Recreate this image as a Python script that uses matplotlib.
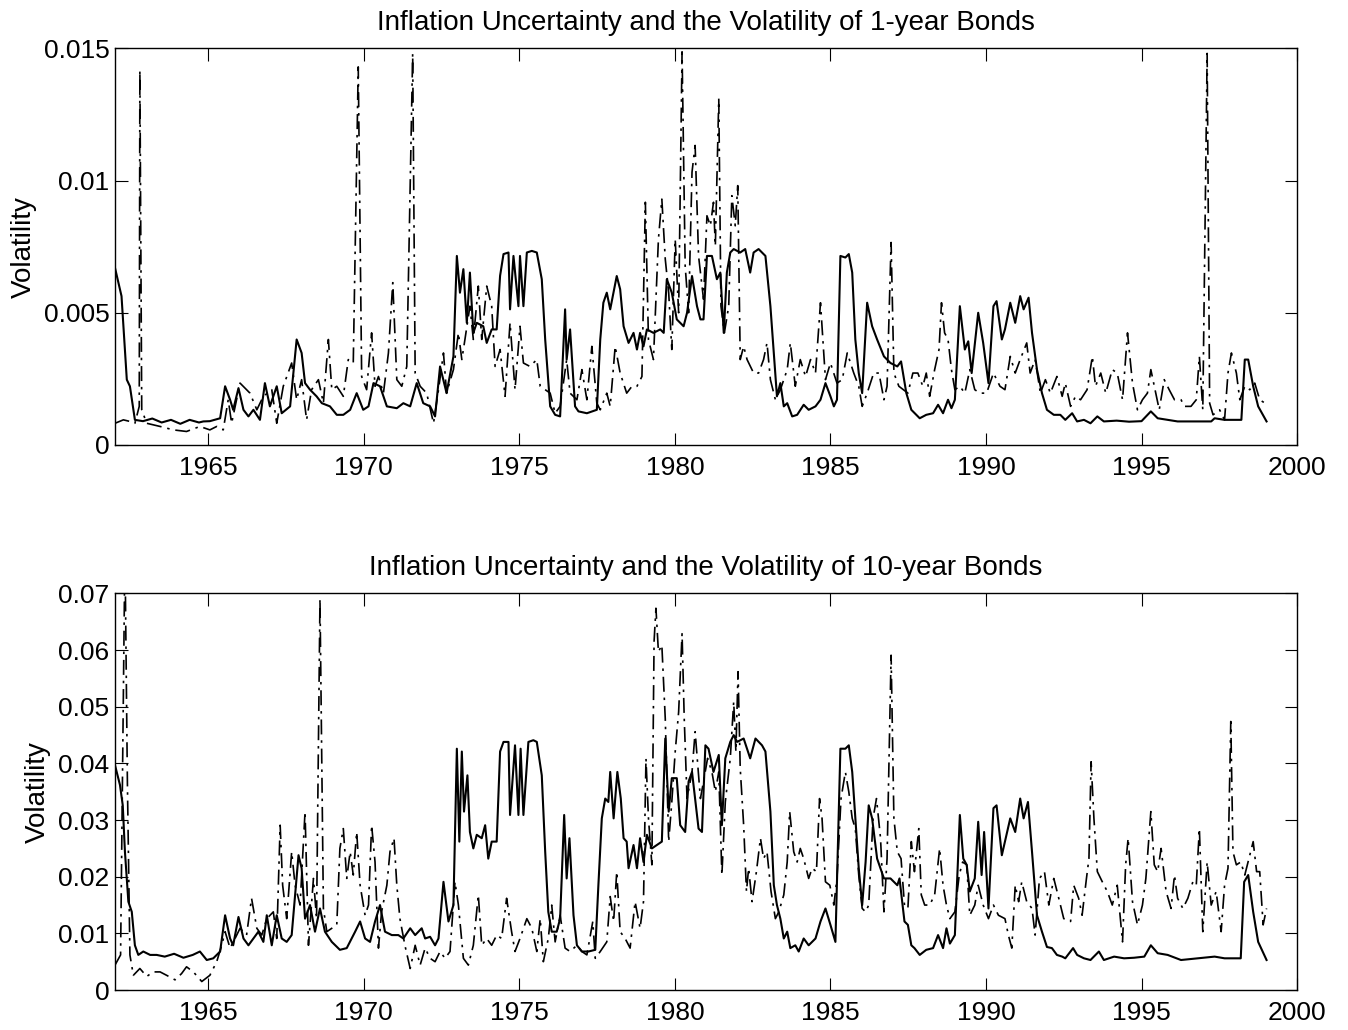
import numpy as np
import matplotlib
matplotlib.use("Agg")
import matplotlib.pyplot as plt

# ── Datos (volatilidad en unidades de 0.001) ─────────────────
# 1-year bonds: linea solida
t_s1 = [1962.00, 1962.21, 1962.38, 1962.48, 1962.64, 1962.90, 1963.20, 1963.50, 1963.80,
        1964.10, 1964.40, 1964.70, 1964.84, 1965.05, 1965.38, 1965.54, 1965.70, 1965.80,
        1965.97, 1966.13, 1966.29, 1966.45, 1966.66, 1966.82, 1966.98, 1967.20, 1967.36,
        1967.63, 1967.84, 1968.00, 1968.11, 1968.27, 1968.48, 1968.65, 1968.91, 1969.13,
        1969.34, 1969.56, 1969.77, 1969.98, 1970.15, 1970.31, 1970.52, 1970.74, 1971.06,
        1971.27, 1971.49, 1971.70, 1971.91, 1972.13, 1972.29, 1972.45, 1972.66, 1972.88,
        1972.99, 1973.09, 1973.20, 1973.31, 1973.41, 1973.52, 1973.63, 1973.84, 1973.95,
        1974.11, 1974.27, 1974.38, 1974.49, 1974.65, 1974.70, 1974.81, 1974.97, 1975.02,
        1975.13, 1975.24, 1975.40, 1975.56, 1975.72, 1975.83, 1975.99, 1976.15, 1976.31,
        1976.47, 1976.52, 1976.63, 1976.79, 1976.90, 1977.17, 1977.49, 1977.60, 1977.70,
        1977.81, 1977.92, 1978.13, 1978.24, 1978.35, 1978.51, 1978.67, 1978.78, 1978.88,
        1978.99, 1979.10, 1979.31, 1979.53, 1979.64, 1979.74, 1979.90, 1980.06, 1980.28,
        1980.39, 1980.55, 1980.71, 1980.82, 1980.92, 1981.03, 1981.19, 1981.35, 1981.46,
        1981.57, 1981.67, 1981.78, 1981.89, 1982.10, 1982.26, 1982.42, 1982.53, 1982.69,
        1982.91, 1983.07, 1983.28, 1983.39, 1983.50, 1983.61, 1983.77, 1983.93, 1984.14,
        1984.30, 1984.52, 1984.68, 1984.84, 1985.00, 1985.11, 1985.21, 1985.32, 1985.48,
        1985.59, 1985.70, 1985.80, 1985.91, 1986.02, 1986.18, 1986.34, 1986.50, 1986.72,
        1986.93, 1987.15, 1987.27, 1987.44, 1987.60, 1987.87, 1988.08, 1988.30, 1988.46,
        1988.62, 1988.78, 1988.89, 1989.00, 1989.16, 1989.32, 1989.43, 1989.54, 1989.75,
        1989.91, 1990.08, 1990.24, 1990.34, 1990.51, 1990.61, 1990.78, 1990.94, 1991.10,
        1991.21, 1991.37, 1991.48, 1991.64, 1991.80, 1991.96, 1992.18, 1992.39, 1992.55,
        1992.77, 1992.93, 1993.15, 1993.36, 1993.58, 1993.79, 1994.20, 1994.60, 1995.00,
        1995.30, 1995.52, 1996.16, 1996.59, 1997.24, 1997.35, 1997.67, 1998.21, 1998.32,
        1998.43, 1998.59, 1998.75, 1999.02]
v_s1 = [6.70, 5.63, 2.47, 2.22, 0.95, 0.90, 1.00, 0.85, 0.95,
        0.80, 0.95, 0.85, 0.89, 0.90, 1.01, 2.22, 1.71, 1.33,
        2.15, 1.33, 1.08, 1.33, 0.95, 2.34, 1.46, 2.22, 1.20,
        1.46, 3.99, 3.48, 2.34, 2.09, 1.84, 1.58, 1.46, 1.14,
        1.14, 1.33, 1.96, 1.33, 1.46, 2.34, 2.22, 1.46, 1.39,
        1.58, 1.46, 2.34, 1.58, 1.46, 1.08, 2.97, 1.96, 3.35,
        7.15, 5.76, 6.65, 4.62, 6.52, 4.24, 4.62, 4.49, 3.86,
        4.37, 4.37, 6.40, 7.22, 7.28, 5.13, 7.15, 5.25, 7.15,
        5.25, 7.28, 7.34, 7.28, 6.27, 3.99, 1.46, 1.14, 1.08,
        5.13, 3.23, 4.37, 1.46, 1.27, 1.20, 1.33, 3.99, 5.38,
        5.76, 5.13, 6.39, 5.89, 4.49, 3.86, 4.24, 3.61, 4.24,
        3.73, 4.37, 4.24, 4.37, 4.24, 6.27, 5.76, 4.75, 4.49,
        5.00, 6.39, 5.25, 4.75, 4.75, 7.15, 7.15, 6.27, 6.52,
        4.24, 6.52, 7.28, 7.41, 7.28, 7.41, 6.52, 7.28, 7.41,
        7.15, 5.25, 1.84, 2.34, 1.46, 1.58, 1.08, 1.14, 1.52,
        1.33, 1.46, 1.71, 2.34, 1.84, 1.46, 1.71, 7.15, 7.09,
        7.22, 6.52, 3.99, 2.72, 1.96, 5.38, 4.49, 3.99, 3.35,
        3.10, 2.97, 3.16, 1.96, 1.33, 1.01, 1.14, 1.20, 1.52,
        1.20, 1.71, 1.39, 1.71, 5.25, 3.61, 3.92, 2.72, 5.00,
        3.86, 2.34, 5.25, 5.44, 3.99, 4.37, 5.38, 4.62, 5.63,
        5.13, 5.57, 4.24, 2.85, 1.96, 1.33, 1.14, 1.14, 0.95,
        1.20, 0.89, 0.95, 0.82, 1.08, 0.89, 0.92, 0.88, 0.90,
        1.27, 1.01, 0.89, 0.89, 0.89, 1.01, 0.95, 0.95, 3.23,
        3.23, 2.22, 1.46, 0.89]

# 1-year bonds: linea punto-raya
t_d1 = [1962.00, 1962.27, 1962.48, 1962.64, 1962.78, 1962.80, 1962.86, 1963.02, 1963.45,
        1963.88, 1964.30, 1964.73, 1965.05, 1965.27, 1965.48, 1965.64, 1965.75, 1966.02,
        1966.34, 1966.56, 1966.77, 1967.04, 1967.20, 1967.41, 1967.68, 1967.84, 1968.00,
        1968.16, 1968.32, 1968.54, 1968.70, 1968.86, 1968.97, 1969.13, 1969.34, 1969.50,
        1969.66, 1969.82, 1969.93, 1970.09, 1970.25, 1970.36, 1970.47, 1970.63, 1970.79,
        1970.93, 1971.06, 1971.22, 1971.38, 1971.57, 1971.65, 1971.81, 1972.02, 1972.24,
        1972.40, 1972.56, 1972.66, 1972.88, 1973.04, 1973.15, 1973.25, 1973.41, 1973.52,
        1973.68, 1973.79, 1973.95, 1974.11, 1974.22, 1974.38, 1974.54, 1974.70, 1974.86,
        1975.02, 1975.13, 1975.34, 1975.56, 1975.67, 1975.83, 1975.99, 1976.15, 1976.31,
        1976.52, 1976.63, 1976.85, 1977.01, 1977.17, 1977.33, 1977.49, 1977.60, 1977.81,
        1977.92, 1978.08, 1978.24, 1978.45, 1978.62, 1978.78, 1978.94, 1979.05, 1979.15,
        1979.31, 1979.47, 1979.58, 1979.69, 1979.80, 1979.90, 1980.01, 1980.12, 1980.23,
        1980.33, 1980.44, 1980.55, 1980.65, 1980.76, 1980.92, 1981.03, 1981.14, 1981.24,
        1981.30, 1981.41, 1981.48, 1981.59, 1981.73, 1981.83, 1981.94, 1982.02, 1982.10,
        1982.21, 1982.32, 1982.53, 1982.69, 1982.85, 1982.96, 1983.07, 1983.23, 1983.39,
        1983.61, 1983.71, 1983.87, 1984.03, 1984.20, 1984.36, 1984.52, 1984.68, 1984.84,
        1985.00, 1985.21, 1985.38, 1985.54, 1985.75, 1985.91, 1986.02, 1986.18, 1986.39,
        1986.56, 1986.72, 1986.82, 1986.95, 1987.04, 1987.20, 1987.49, 1987.65, 1987.81,
        1987.97, 1988.08, 1988.19, 1988.35, 1988.49, 1988.57, 1988.67, 1988.78, 1988.89,
        1989.00, 1989.16, 1989.32, 1989.48, 1989.64, 1989.81, 1990.02, 1990.24, 1990.45,
        1990.61, 1990.78, 1990.94, 1991.10, 1991.31, 1991.42, 1991.58, 1991.75, 1991.91,
        1992.07, 1992.28, 1992.45, 1992.55, 1992.72, 1992.88, 1993.04, 1993.25, 1993.42,
        1993.52, 1993.69, 1993.85, 1994.06, 1994.22, 1994.39, 1994.55, 1994.71, 1994.87,
        1995.03, 1995.19, 1995.30, 1995.46, 1995.57, 1995.73, 1995.89, 1996.06, 1996.27,
        1996.38, 1996.59, 1996.76, 1996.86, 1996.97, 1997.11, 1997.19, 1997.30, 1997.51,
        1997.67, 1997.78, 1997.89, 1998.05, 1998.16, 1998.32, 1998.48, 1998.64, 1998.80,
        1998.97]
v_d1 = [0.82, 0.95, 0.89, 0.82, 1.46, 14.18, 1.33, 0.82, 0.70,
        0.57, 0.51, 0.70, 0.57, 0.70, 0.57, 1.71, 0.82, 2.34,
        1.96, 1.33, 1.84, 2.09, 0.82, 2.22, 3.10, 1.71, 2.47,
        0.95, 2.09, 2.47, 1.58, 3.99, 2.09, 2.22, 1.84, 3.23,
        3.10, 14.30, 2.59, 2.09, 4.24, 2.22, 2.59, 1.96, 3.48,
        6.14, 2.47, 2.22, 2.97, 14.81, 2.72, 2.22, 1.96, 0.82,
        2.09, 3.48, 1.96, 2.85, 4.24, 3.23, 3.99, 5.25, 3.99,
        6.01, 3.99, 6.01, 5.25, 2.97, 3.61, 1.84, 4.62, 2.09,
        4.49, 3.10, 2.97, 3.23, 2.22, 2.09, 1.96, 1.20, 1.46,
        3.23, 1.96, 1.71, 2.85, 1.71, 3.73, 1.58, 1.33, 1.96,
        1.46, 3.73, 2.72, 1.96, 2.22, 2.22, 2.59, 9.18, 3.99,
        3.23, 7.78, 9.30, 7.03, 5.76, 3.61, 7.78, 5.00, 14.87,
        6.77, 5.00, 10.32, 11.33, 7.15, 5.51, 8.67, 8.29, 9.18,
        7.53, 13.10, 5.25, 4.24, 5.25, 9.43, 8.29, 9.81, 3.23,
        3.73, 3.23, 2.72, 2.72, 3.23, 3.86, 2.47, 1.71, 2.09,
        2.85, 3.86, 2.22, 3.23, 2.59, 3.23, 2.72, 5.38, 2.47,
        3.10, 2.34, 2.47, 3.48, 2.72, 2.22, 1.46, 1.96, 2.72,
        2.72, 1.71, 2.22, 7.66, 2.72, 2.22, 1.96, 2.72, 2.72,
        2.22, 2.72, 1.84, 2.85, 3.61, 5.38, 4.24, 3.99, 2.85,
        2.09, 2.22, 1.96, 2.85, 2.09, 1.96, 1.96, 2.72, 2.22,
        2.09, 3.35, 2.72, 3.23, 3.86, 2.72, 3.23, 1.96, 2.47,
        1.96, 2.59, 1.84, 2.34, 1.46, 1.84, 1.71, 2.09, 3.35,
        2.22, 2.72, 1.96, 2.85, 2.72, 1.71, 4.24, 2.34, 1.33,
        1.71, 1.96, 2.85, 1.96, 1.33, 2.47, 2.09, 1.71, 1.71,
        1.46, 1.46, 1.71, 3.35, 1.33, 14.81, 1.58, 1.14, 1.33,
        0.95, 2.72, 3.48, 2.72, 1.71, 2.22, 2.09, 2.34, 1.71,
        1.58]

# 10-year bonds: linea solida
t_s2 = [1962.00, 1962.16, 1962.25, 1962.32, 1962.43, 1962.54, 1962.64, 1962.75, 1962.91,
        1963.13, 1963.34, 1963.60, 1963.90, 1964.20, 1964.50, 1964.73, 1964.95, 1965.16,
        1965.38, 1965.54, 1965.70, 1965.80, 1965.97, 1966.13, 1966.29, 1966.45, 1966.61,
        1966.77, 1966.88, 1967.04, 1967.20, 1967.36, 1967.52, 1967.68, 1967.90, 1968.00,
        1968.11, 1968.27, 1968.43, 1968.59, 1968.75, 1968.97, 1969.23, 1969.45, 1969.72,
        1969.88, 1970.04, 1970.20, 1970.36, 1970.52, 1970.68, 1970.90, 1971.11, 1971.27,
        1971.49, 1971.65, 1971.86, 1971.97, 1972.13, 1972.29, 1972.40, 1972.56, 1972.72,
        1972.88, 1972.99, 1973.07, 1973.15, 1973.22, 1973.33, 1973.41, 1973.52, 1973.63,
        1973.79, 1973.90, 1974.00, 1974.11, 1974.27, 1974.38, 1974.49, 1974.65, 1974.70,
        1974.86, 1974.97, 1975.04, 1975.13, 1975.29, 1975.45, 1975.56, 1975.72, 1975.83,
        1975.93, 1976.04, 1976.20, 1976.31, 1976.44, 1976.52, 1976.61, 1976.74, 1976.85,
        1977.01, 1977.22, 1977.44, 1977.54, 1977.65, 1977.76, 1977.86, 1977.92, 1978.03,
        1978.15, 1978.26, 1978.35, 1978.45, 1978.51, 1978.67, 1978.78, 1978.88, 1978.99,
        1979.10, 1979.26, 1979.42, 1979.58, 1979.69, 1979.80, 1979.90, 1980.06, 1980.17,
        1980.33, 1980.44, 1980.55, 1980.65, 1980.76, 1980.87, 1980.98, 1981.08, 1981.24,
        1981.41, 1981.51, 1981.62, 1981.78, 1981.89, 1982.00, 1982.21, 1982.42, 1982.59,
        1982.80, 1982.91, 1983.07, 1983.18, 1983.28, 1983.39, 1983.50, 1983.61, 1983.71,
        1983.87, 1983.98, 1984.14, 1984.30, 1984.52, 1984.68, 1984.84, 1985.00, 1985.16,
        1985.32, 1985.48, 1985.59, 1985.70, 1985.80, 1985.91, 1986.02, 1986.13, 1986.23,
        1986.34, 1986.50, 1986.72, 1986.93, 1987.15, 1987.22, 1987.38, 1987.49, 1987.60,
        1987.70, 1987.87, 1988.08, 1988.30, 1988.46, 1988.62, 1988.73, 1988.84, 1989.00,
        1989.16, 1989.27, 1989.38, 1989.48, 1989.64, 1989.75, 1989.86, 1989.94, 1990.08,
        1990.24, 1990.34, 1990.51, 1990.61, 1990.78, 1990.94, 1991.10, 1991.21, 1991.35,
        1991.48, 1991.64, 1991.80, 1991.96, 1992.12, 1992.28, 1992.45, 1992.55, 1992.80,
        1992.93, 1993.15, 1993.36, 1993.63, 1993.79, 1994.12, 1994.44, 1994.76, 1995.09,
        1995.30, 1995.52, 1995.84, 1996.27, 1996.81, 1997.35, 1997.67, 1998.19, 1998.30,
        1998.43, 1998.59, 1998.75, 1999.02]
v_s2 = [39.7, 36.2, 32.6, 24.4, 15.6, 13.8, 7.9, 6.2, 6.8,
        6.2, 6.2, 5.9, 6.4, 5.7, 6.2, 6.8, 5.3, 5.6,
        6.8, 13.2, 9.1, 7.9, 12.9, 9.1, 7.9, 9.1, 10.3,
        8.5, 13.2, 7.9, 13.2, 9.1, 8.5, 9.7, 23.8, 21.5,
        12.6, 15.0, 10.3, 14.4, 10.3, 8.5, 7.1, 7.4, 10.3,
        12.1, 9.1, 8.5, 12.1, 15.0, 10.3, 9.7, 9.7, 9.1,
        10.9, 9.7, 10.9, 9.1, 9.4, 7.9, 9.1, 19.1, 12.1,
        15.0, 42.6, 26.2, 42.1, 31.5, 37.9, 27.9, 25.0, 27.4,
        26.8, 29.1, 23.2, 26.2, 26.2, 42.1, 43.8, 43.8, 30.9,
        43.2, 30.9, 42.6, 30.9, 43.8, 44.1, 43.8, 37.9, 24.4,
        13.8, 10.3, 10.3, 12.6, 30.9, 19.7, 26.8, 13.2, 7.9,
        6.8, 6.8, 7.1, 18.5, 30.3, 33.8, 33.2, 38.5, 30.3,
        38.5, 33.8, 26.8, 26.2, 21.5, 25.6, 21.5, 26.8, 22.6,
        27.4, 25.0, 25.6, 26.2, 44.4, 31.5, 37.4, 37.4, 29.1,
        27.9, 36.8, 38.5, 33.8, 28.5, 27.9, 43.2, 42.6, 38.5,
        41.5, 29.1, 40.9, 43.8, 45.0, 43.8, 44.4, 40.9, 44.4,
        43.2, 42.1, 31.5, 18.5, 15.0, 12.6, 9.1, 10.3, 7.4,
        7.9, 6.8, 9.1, 7.9, 9.1, 12.1, 14.4, 11.5, 8.5,
        42.6, 42.6, 43.2, 38.5, 30.3, 21.5, 15.0, 22.6, 32.6,
        30.3, 23.2, 19.7, 19.7, 18.5, 19.7, 12.1, 11.5, 7.9,
        7.4, 6.2, 7.1, 7.4, 9.7, 7.4, 10.9, 8.2, 9.7,
        30.9, 23.2, 22.1, 17.4, 19.7, 29.7, 20.3, 27.9, 14.4,
        32.1, 32.6, 23.8, 26.2, 30.3, 27.9, 33.8, 30.3, 33.2,
        24.4, 13.2, 10.3, 7.6, 7.4, 6.2, 5.9, 5.6, 7.4,
        6.2, 5.6, 5.3, 6.8, 5.3, 5.9, 5.6, 5.7, 5.9,
        7.9, 6.5, 6.2, 5.3, 5.6, 5.9, 5.6, 5.6, 19.1,
        20.3, 13.8, 8.5, 5.3]

# 10-year bonds: linea punto-raya
t_d2 = [1962.00, 1962.18, 1962.32, 1962.40, 1962.48, 1962.59, 1962.80, 1963.02, 1963.23,
        1963.45, 1963.66, 1963.93, 1964.14, 1964.30, 1964.52, 1964.79, 1965.05, 1965.27,
        1965.43, 1965.54, 1965.70, 1965.86, 1966.02, 1966.23, 1966.39, 1966.56, 1966.72,
        1966.88, 1967.09, 1967.20, 1967.31, 1967.39, 1967.52, 1967.68, 1967.79, 1967.95,
        1968.11, 1968.22, 1968.38, 1968.48, 1968.59, 1968.70, 1968.81, 1968.97, 1969.13,
        1969.23, 1969.34, 1969.45, 1969.56, 1969.66, 1969.77, 1969.88, 1970.04, 1970.15,
        1970.25, 1970.36, 1970.47, 1970.57, 1970.74, 1970.84, 1970.97, 1971.06, 1971.16,
        1971.32, 1971.49, 1971.65, 1971.81, 1971.97, 1972.13, 1972.29, 1972.45, 1972.61,
        1972.77, 1972.93, 1973.04, 1973.20, 1973.36, 1973.52, 1973.68, 1973.79, 1973.95,
        1974.11, 1974.27, 1974.43, 1974.59, 1974.75, 1974.86, 1975.02, 1975.24, 1975.40,
        1975.56, 1975.67, 1975.77, 1975.93, 1976.04, 1976.15, 1976.31, 1976.47, 1976.63,
        1976.85, 1977.01, 1977.17, 1977.36, 1977.44, 1977.60, 1977.81, 1977.92, 1978.03,
        1978.13, 1978.24, 1978.40, 1978.56, 1978.72, 1978.88, 1978.99, 1979.07, 1979.15,
        1979.26, 1979.33, 1979.39, 1979.47, 1979.58, 1979.69, 1979.80, 1979.90, 1980.01,
        1980.12, 1980.23, 1980.30, 1980.39, 1980.55, 1980.65, 1980.82, 1980.92, 1981.05,
        1981.19, 1981.30, 1981.41, 1981.51, 1981.62, 1981.78, 1981.89, 1981.96, 1982.03,
        1982.10, 1982.21, 1982.30, 1982.37, 1982.48, 1982.62, 1982.75, 1982.85, 1982.96,
        1983.09, 1983.23, 1983.34, 1983.50, 1983.61, 1983.69, 1983.82, 1983.93, 1984.03,
        1984.14, 1984.30, 1984.41, 1984.55, 1984.65, 1984.73, 1984.84, 1984.98, 1985.11,
        1985.21, 1985.34, 1985.48, 1985.59, 1985.70, 1985.80, 1985.91, 1986.02, 1986.13,
        1986.23, 1986.37, 1986.48, 1986.61, 1986.72, 1986.82, 1986.95, 1987.04, 1987.15,
        1987.27, 1987.38, 1987.49, 1987.60, 1987.70, 1987.84, 1987.92, 1988.03, 1988.19,
        1988.35, 1988.51, 1988.62, 1988.73, 1988.84, 1989.00, 1989.14, 1989.25, 1989.38,
        1989.48, 1989.64, 1989.75, 1989.91, 1990.08, 1990.24, 1990.40, 1990.61, 1990.72,
        1990.83, 1990.94, 1991.05, 1991.15, 1991.31, 1991.48, 1991.58, 1991.72, 1991.88,
        1992.02, 1992.18, 1992.34, 1992.50, 1992.72, 1992.82, 1992.98, 1993.09, 1993.23,
        1993.31, 1993.38, 1993.47, 1993.58, 1993.74, 1993.90, 1994.06, 1994.22, 1994.39,
        1994.49, 1994.57, 1994.71, 1994.87, 1995.03, 1995.14, 1995.30, 1995.41, 1995.52,
        1995.63, 1995.79, 1995.95, 1996.06, 1996.16, 1996.33, 1996.49, 1996.65, 1996.76,
        1996.86, 1996.97, 1997.11, 1997.24, 1997.40, 1997.56, 1997.67, 1997.78, 1997.87,
        1997.94, 1998.05, 1998.19, 1998.32, 1998.48, 1998.59, 1998.70, 1998.80, 1998.91,
        1999.02]
v_d2 = [4.4, 6.2, 78.0, 36.2, 6.2, 2.6, 3.8, 2.4, 3.2,
        3.2, 2.6, 1.8, 2.9, 4.1, 3.2, 1.5, 2.6, 5.0,
        7.9, 10.3, 7.4, 9.1, 10.9, 9.7, 16.2, 10.9, 9.7,
        12.6, 13.8, 9.1, 29.1, 18.5, 12.6, 24.4, 18.5, 15.0,
        31.5, 7.9, 19.7, 12.6, 69.1, 14.4, 10.3, 10.9, 11.5,
        25.0, 28.5, 19.7, 24.4, 20.3, 27.9, 18.5, 13.2, 15.0,
        29.1, 22.6, 7.4, 13.8, 18.5, 24.4, 26.8, 18.5, 12.6,
        7.9, 3.8, 7.9, 4.4, 7.4, 5.6, 5.0, 6.8, 5.6,
        6.8, 19.1, 15.0, 5.6, 4.4, 7.9, 16.8, 7.9, 9.1,
        7.9, 9.7, 9.1, 16.2, 10.3, 6.8, 9.1, 12.6, 10.9,
        6.8, 12.6, 5.0, 9.1, 15.0, 8.5, 13.2, 7.4, 6.8,
        7.9, 6.8, 6.2, 12.1, 5.6, 6.8, 8.5, 16.5, 12.1,
        20.9, 10.3, 9.1, 7.4, 15.6, 10.9, 15.6, 40.9, 30.3,
        22.1, 61.5, 67.4, 59.7, 60.9, 47.9, 26.2, 33.2, 42.1,
        49.1, 62.9, 47.9, 33.8, 38.5, 45.6, 33.8, 36.8, 40.9,
        38.5, 35.0, 38.5, 20.3, 33.2, 40.9, 50.9, 42.1, 56.2,
        39.1, 29.1, 17.4, 21.5, 15.6, 20.9, 26.8, 23.2, 24.4,
        17.4, 12.6, 13.8, 16.8, 22.6, 31.5, 24.4, 22.6, 25.0,
        23.2, 19.7, 21.5, 20.9, 33.8, 30.3, 19.1, 18.5, 15.0,
        19.7, 33.8, 38.5, 35.0, 30.3, 28.5, 20.3, 14.4, 13.8,
        15.0, 30.3, 33.8, 26.8, 13.8, 23.2, 59.1, 30.3, 24.4,
        23.2, 15.0, 14.4, 26.2, 20.9, 28.5, 16.8, 15.0, 15.0,
        16.8, 25.0, 18.5, 15.0, 12.6, 13.8, 20.3, 22.6, 22.1,
        13.2, 15.0, 18.5, 15.0, 12.6, 15.0, 13.2, 12.6, 9.7,
        7.4, 18.5, 15.6, 19.1, 15.6, 14.4, 9.7, 19.7, 20.9,
        15.0, 19.7, 16.2, 12.6, 12.1, 18.5, 16.2, 13.2, 19.7,
        23.2, 40.3, 30.3, 20.9, 19.1, 17.4, 15.0, 18.5, 8.5,
        22.1, 26.8, 15.6, 11.5, 15.0, 19.7, 31.5, 22.1, 20.9,
        25.0, 17.4, 14.4, 20.3, 16.2, 14.4, 16.2, 19.1, 18.5,
        28.5, 10.3, 22.6, 15.0, 17.4, 10.3, 18.5, 21.5, 47.4,
        24.4, 22.1, 22.6, 20.3, 23.8, 26.2, 20.9, 20.9, 11.5,
        14.4]

titulos = ["Inflation Uncertainty and the Volatility of 1-year Bonds",
           "Inflation Uncertainty and the Volatility of 10-year Bonds"]
ylims   = [0.015, 0.07]
yticks  = [[0, 0.005, 0.01, 0.015],
           [0, 0.01, 0.02, 0.03, 0.04, 0.05, 0.06, 0.07]]
xticks  = [1965, 1970, 1975, 1980, 1985, 1990, 1995, 2000]

plt.rcParams["font.family"] = ["Liberation Sans", "DejaVu Sans"]

fig = plt.figure(figsize=(13.48, 10.30), dpi=100, facecolor="white")
ax1 = fig.add_axes([0.0853, 0.568, 0.8769, 0.385])
ax2 = fig.add_axes([0.0853, 0.0388, 0.8769, 0.385])

series = [(t_s1, v_s1, t_d1, v_d1), (t_s2, v_s2, t_d2, v_d2)]

for i, ax in enumerate([ax1, ax2]):
    ts, vs, td, vd = series[i]
    ax.plot(td, np.array(vd) * 1e-3, color="black", linewidth=1.2,
            linestyle=(0, (9, 3.5, 1.5, 3.5)))
    ax.plot(ts, np.array(vs) * 1e-3, color="black", linewidth=1.5)
    ax.set_xlim(1962, 2000)
    ax.set_ylim(0, ylims[i])
    ax.set_xticks(xticks)
    ax.set_yticks(yticks[i])
    ax.set_yticklabels(["%g" % y for y in yticks[i]])
    ax.tick_params(direction="in", length=9, width=0.8, labelsize=19,
                   top=True, right=True)
    ax.tick_params(axis="x", pad=8)
    ax.tick_params(axis="y", pad=4)
    for s in ax.spines.values():
        s.set_linewidth(1.0)
    ax.set_title(titulos[i], fontsize=20, pad=13)
    ax.set_ylabel("Volatility", fontsize=20, labelpad=5)

fig.savefig("out.png", dpi=100, facecolor="white")
